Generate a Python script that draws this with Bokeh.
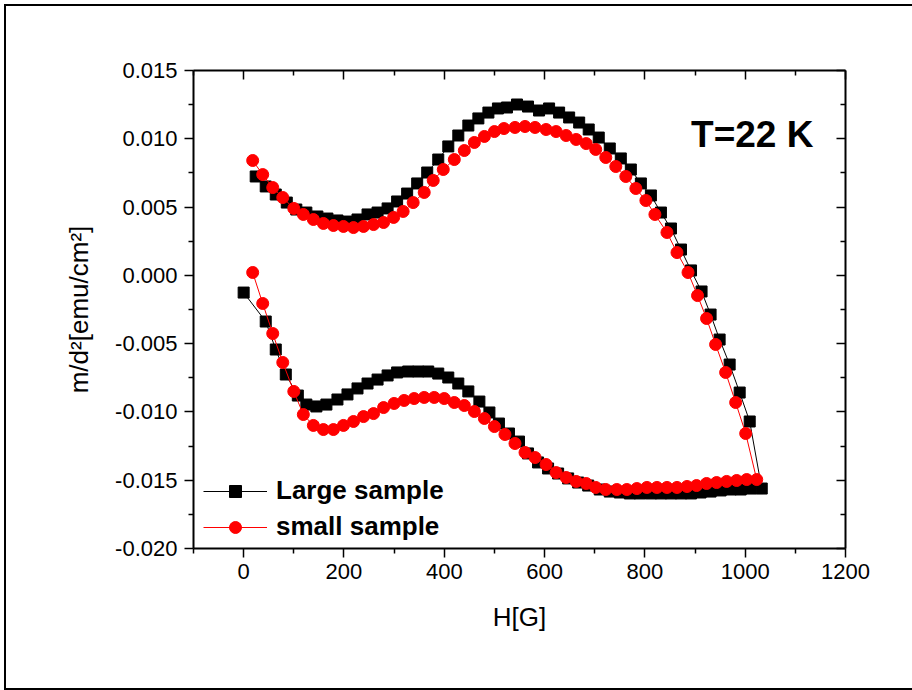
from bokeh.plotting import figure
from bokeh.layouts import column
from bokeh.models import (Range1d, LinearAxis, FixedTicker, PrintfTickFormatter,
                          Legend, LegendItem, Label, CustomJSTickFormatter)
from bokeh.embed import file_html
from bokeh.resources import INLINE

# ---------------- data ----------------
large_H = [0, 44, 64, 84, 108, 125, 145, 165, 187, 207, 227, 247, 267, 287, 306, 328, 348, 368, 388, 408,
           428, 448, 470, 490, 509, 529, 549, 567, 587, 607, 627, 647, 667, 687, 710, 730, 750, 770, 790, 812,
           832, 852, 872, 892, 911, 931, 951, 971, 991, 1011, 1033,
           1009, 989, 969, 949, 931, 913, 892, 872, 852, 832, 812, 792, 772, 752, 730, 708, 688, 669, 649, 629,
           609, 589, 567, 545, 525, 507, 488, 468, 448, 428, 408, 388, 366, 346, 326, 306, 287, 267, 247, 227,
           207, 187, 167, 147, 125, 105, 86, 64, 44, 24]
large_m = [-0.00126, -0.00338, -0.00543, -0.00726, -0.00880, -0.00946, -0.00960, -0.00946, -0.00909, -0.00872,
           -0.00828, -0.00792, -0.00763, -0.00733, -0.00711, -0.00704, -0.00704, -0.00704, -0.00719, -0.00748,
           -0.00792, -0.00850, -0.00924, -0.01004, -0.01085, -0.01158, -0.01217, -0.01304, -0.01370, -0.01414,
           -0.01451, -0.01487, -0.01517, -0.01539, -0.01568, -0.01583, -0.01590, -0.01597, -0.01597, -0.01597,
           -0.01597, -0.01597, -0.01597, -0.01597, -0.01590, -0.01583, -0.01575, -0.01568, -0.01568, -0.01561,
           -0.01561,
           -0.01070, -0.00858, -0.00653, -0.00470, -0.00287, -0.00118, 0.00036, 0.00189, 0.00343, 0.00460,
           0.00585, 0.00673, 0.00775, 0.00856, 0.00929, 0.01009, 0.01068, 0.01119, 0.01156, 0.01192,
           0.01222, 0.01207, 0.01236, 0.01251, 0.01229, 0.01222, 0.01192, 0.01149, 0.01097, 0.01024,
           0.00944, 0.00848, 0.00753, 0.00673, 0.00599, 0.00541, 0.00490, 0.00460, 0.00446, 0.00409,
           0.00394, 0.00402, 0.00416, 0.00431, 0.00460, 0.00482, 0.00533, 0.00592, 0.00651, 0.00724]

small_H = [18, 38, 58, 78, 100, 119, 139, 159, 179, 199, 219, 239, 259, 279, 300, 320, 340, 360, 380, 400,
           420, 440, 460, 480, 500, 521, 541, 561, 581, 603, 623, 643, 663, 683, 702, 722, 744, 764, 784, 804,
           824, 844, 864, 884, 903, 923, 943, 963, 983, 1003, 1023,
           1001, 981, 961, 941, 923, 905, 886, 864, 844, 820, 802, 782, 762, 742, 722, 702, 683, 663, 643, 623,
           603, 581, 561, 541, 519, 500, 480, 460, 440, 420, 398, 378, 360, 338, 318, 299, 279, 259, 239, 219,
           199, 179, 159, 139, 119, 100, 78, 58, 38, 18]
small_m = [0.00021, -0.00206, -0.00426, -0.00638, -0.00850, -0.01019, -0.01099, -0.01129, -0.01129, -0.01099,
           -0.01070, -0.01034, -0.01012, -0.00968, -0.00938, -0.00916, -0.00902, -0.00894, -0.00894, -0.00902,
           -0.00931, -0.00953, -0.00997, -0.01048, -0.01107, -0.01165, -0.01231, -0.01297, -0.01334, -0.01385,
           -0.01444, -0.01480, -0.01509, -0.01524, -0.01553, -0.01568, -0.01568, -0.01568, -0.01561, -0.01553,
           -0.01553, -0.01553, -0.01553, -0.01546, -0.01539, -0.01524, -0.01517, -0.01509, -0.01502, -0.01495,
           -0.01495,
           -0.01158, -0.00931, -0.00711, -0.00506, -0.00316, -0.00148, 0.00021, 0.00167, 0.00314, 0.00446,
           0.00548, 0.00636, 0.00724, 0.00797, 0.00863, 0.00922, 0.00965, 0.00995, 0.01024, 0.01053,
           0.01068, 0.01083, 0.01090, 0.01083, 0.01075, 0.01053, 0.01017, 0.00973, 0.00914, 0.00848,
           0.00775, 0.00695, 0.00607, 0.00533, 0.00468, 0.00424, 0.00387, 0.00372, 0.00358, 0.00350,
           0.00358, 0.00365, 0.00380, 0.00409, 0.00446, 0.00490, 0.00570, 0.00643, 0.00738, 0.00841]

x_ticks = [0, 200, 400, 600, 800, 1000, 1200]
x_minor = [-100, 100, 300, 500, 700, 900, 1100]
y_ticks = [-0.020, -0.015, -0.010, -0.005, 0.0, 0.005, 0.010, 0.015]
y_minor = [-0.0175, -0.0125, -0.0075, -0.0025, 0.0025, 0.0075, 0.0125]
series_labels = ["Large sample", "small sample"]
annotation = "T=22 K"

FONT = "Liberation Sans"

p = figure(width=906, height=682, output_backend="svg", toolbar_location=None,
           x_range=Range1d(-100, 1200), y_range=Range1d(-0.020, 0.015),
           min_border_left=187, min_border_right=67, min_border_top=64, min_border_bottom=140)
p.xgrid.visible = False
p.ygrid.visible = False
p.outline_line_color = None
p.background_fill_color = "white"
p.border_fill_color = "white"

xt = FixedTicker(ticks=x_ticks, minor_ticks=x_minor)
yt = FixedTicker(ticks=y_ticks, minor_ticks=y_minor)

def style_axis(ax, inner):
    ax.axis_line_width = 2
    ax.axis_line_color = "black"
    ax.major_tick_line_width = 1.5
    ax.minor_tick_line_width = 1.5
    ax.major_tick_line_color = "black"
    ax.minor_tick_line_color = "black"
    if inner:
        ax.major_tick_in = 9
        ax.major_tick_out = 0
        ax.minor_tick_in = 5
        ax.minor_tick_out = 0
        ax.formatter = CustomJSTickFormatter(code="return ''")
    else:
        ax.major_tick_in = 0
        ax.major_tick_out = 9
        ax.minor_tick_in = 0
        ax.minor_tick_out = 5
        ax.major_label_text_font = FONT
        ax.major_label_text_font_size = "22px"
        ax.major_label_text_color = "black"
        ax.axis_label_text_font = FONT
        ax.axis_label_text_font_size = "26px"
        ax.axis_label_text_font_style = "normal"
        ax.axis_label_text_color = "black"

xa = p.xaxis[0]
xa.ticker = xt
style_axis(xa, False)
xa.axis_label = "H[G]"
xa.major_label_standoff = 6
xa.axis_label_standoff = 20

ya = p.yaxis[0]
ya.ticker = yt
style_axis(ya, False)
ya.formatter = PrintfTickFormatter(format="%.3f")
ya.axis_label = "m/d²[emu/cm²]"
ya.major_label_standoff = 7
ya.axis_label_standoff = 18

top = LinearAxis(ticker=xt)
style_axis(top, True)
p.add_layout(top, "above")
right = LinearAxis(ticker=yt)
style_axis(right, True)
p.add_layout(right, "right")

l1 = p.line(large_H, large_m, line_color="black", line_width=1)
s1 = p.scatter(large_H, large_m, marker="square", size=11, fill_color="black", line_color="black")
l2 = p.line(small_H, small_m, line_color="red", line_width=1)
s2 = p.scatter(small_H, small_m, marker="circle", size=12, fill_color="red", line_color="red")

legend = Legend(items=[LegendItem(label=series_labels[0], renderers=[l1, s1]),
                       LegendItem(label=series_labels[1], renderers=[l2, s2])],
                location=(10, 6), glyph_width=64, glyph_height=30, label_height=30,
                label_standoff=9, spacing=5, padding=0, margin=0,
                label_text_font=FONT, label_text_font_size="26px", label_text_font_style="bold",
                label_text_color="black", background_fill_alpha=0, border_line_color=None)
p.add_layout(legend)

p.add_layout(Label(x=892, y=0.0103, text=annotation, text_font=FONT, text_font_size="37px",
                   text_font_style="bold", text_color="black", text_baseline="alphabetic",
                   text_align="left"))

page = column(p, styles={"border-left": "2px solid black", "border-top": "2px solid black",
                         "border-bottom": "2px solid black", "margin": "4px 0 0 4px"})

open("out.html", "w").write(file_html(page, INLINE))
